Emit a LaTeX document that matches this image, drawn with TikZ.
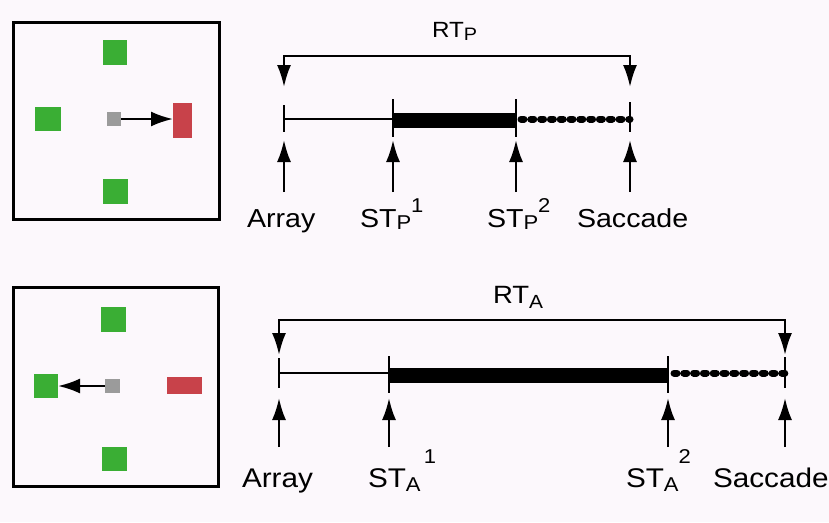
\documentclass[tikz,border=0pt]{standalone}
\usepackage{fontspec}
\setmainfont{Liberation Sans}[FakeStretch=1.1]
\usetikzlibrary{arrows.meta}

\definecolor{paper}{RGB}{252,248,252}
\definecolor{tgreen}{RGB}{58,174,52}
\definecolor{tred}{RGB}{200,66,74}
\definecolor{fixgray}{RGB}{155,155,155}

% label with a lowered subscript and a raised index: #1 base, #2 sub, #3 sup, #4 drop, #5 raise
\newcommand{\idxlabel}[5]{#1\raisebox{-#4}{\fontsize{20}{20}\selectfont #2}\raisebox{#5}{\fontsize{20}{20}\selectfont #3}}

\begin{document}
\begin{tikzpicture}[x=1pt,y=-1pt,
  patch/.style={rectangle, inner sep=0pt, outer sep=0pt},
  target/.style={patch, fill=tgreen},
  distract/.style={patch, fill=tred},
  fixpt/.style={patch, fill=fixgray, minimum width=14pt, minimum height=14pt},
  panel/.style={draw=black, line width=3pt},
  pointer/.style={line width=2.4pt, -{Latex[length=22pt,width=15pt]}},
  tick/.style={line width=2.2pt},
  thinline/.style={line width=1.6pt},
  thickline/.style={line width=15pt},
  dotline/.style={line width=7pt, line cap=round, dash pattern=on 3pt off 6.8pt},
  span/.style={line width=2.2pt, {Latex[length=22pt,width=14pt]}-{Latex[length=22pt,width=14pt]}},
  mark up/.style={line width=2.2pt, -{Latex[length=22pt,width=14pt]}},
  lbl/.style={inner sep=0pt, outer sep=0pt, anchor=base west, font=\fontsize{26}{30}\selectfont},
  lblb/.style={lbl, font=\fontsize{27}{30}\selectfont}
]
\fill[paper] (0,0) rectangle (829,522);
\useasboundingbox (0,0) rectangle (829,522);

% ---------- upper display: prosaccade ----------
\draw[panel] (13,22) rectangle (219,219);
\node[target, minimum width=24pt, minimum height=25pt] (pT) at (115,52.5) {};
\node[target, minimum width=26pt, minimum height=24pt] (pL) at (48,119) {};
\node[target, minimum width=25pt, minimum height=25pt] (pB) at (115.5,191.5) {};
\node[distract, minimum width=19pt, minimum height=35pt] (pR) at (182.5,120.5) {};
\node[fixpt] (pF) at (114,119) {};
\draw[pointer] (pF.east) -- (pF.east -| pR.west);

% ---------- upper time line ----------
\coordinate (pa) at (284,119);
\coordinate (p1) at (393,119);
\coordinate (p2) at (516,119);
\coordinate (ps) at (630,119);

\draw[thinline] (pa) -- (p1);
\draw[thickline] ([yshift=-1pt]p1) -- ([yshift=-1pt]p2);
\draw[dotline] ([xshift=5pt]p2) -- (ps);
\draw[tick] ([yshift=14pt]pa) -- ([yshift=-13pt]pa);
\draw[tick] ([yshift=20pt]p1) -- ([yshift=-18pt]p1);
\draw[tick] ([yshift=20pt]p2) -- ([yshift=-18pt]p2);
\draw[tick] ([yshift=17pt]ps) -- ([yshift=-13pt]ps);

\coordinate (pbl) at (284,87);
\coordinate (pbr) at (630,87);
\draw[span] (pbl) |- (457,56) -| (pbr);
\node[lbl, font=\fontsize{22}{24}\selectfont] (rtp) at (432,37) {RT\raisebox{-3pt}{\fontsize{18}{18}\selectfont P}};

\foreach \c in {pa,p1,p2,ps}
  \draw[mark up] ([yshift=-73pt]\c) -- ([yshift=-21pt]\c);

\node[lbl] (lpa) at (247,227) {Array};
\node[lbl] (lp1) at (360,227) {\idxlabel{ST}{P}{1}{2pt}{15pt}};
\node[lbl] (lp2) at (487,227) {\idxlabel{ST}{P}{2}{2pt}{15pt}};
\node[lbl] (lps) at (577,227) {Saccade};

% ---------- lower display: antisaccade ----------
\draw[panel] (13,287) rectangle (218,486);
\node[target, minimum width=25pt, minimum height=25pt] (aT) at (113.5,319.5) {};
\node[target, minimum width=24pt, minimum height=24pt] (aL) at (46,386) {};
\node[target, minimum width=25pt, minimum height=24pt] (aB) at (114.5,459) {};
\node[distract, minimum width=35pt, minimum height=17pt] (aR) at (184.5,385.5) {};
\node[fixpt, minimum width=15pt] (aF) at (112.5,386) {};
\draw[pointer] (aF.west) -- (aF.west -| aL.east);

% ---------- lower time line ----------
\coordinate (aa) at (279,373);
\coordinate (a1) at (389,373);
\coordinate (a2) at (668,373);
\coordinate (as) at (785,373);

\draw[thinline] (aa) -- (a1);
\draw[thickline] ([yshift=-2pt]a1) -- ([yshift=-2pt]a2);
\draw[dotline] ([xshift=6pt]a2) -- (as);
\draw[tick] ([yshift=15pt]aa) -- ([yshift=-15pt]aa);
\draw[tick] ([yshift=17pt]a1) -- ([yshift=-20pt]a1);
\draw[tick] ([yshift=17pt]a2) -- ([yshift=-20pt]a2);
\draw[tick] ([yshift=16pt]as) -- ([yshift=-15pt]as);

\coordinate (abl) at (279,355);
\coordinate (abr) at (785,355);
\draw[span] (abl) |- (532,320) -| (abr);
\node[lblb, font=\fontsize{25}{30}\selectfont] (rta) at (493,303) {RT\raisebox{-5pt}{\fontsize{19}{19}\selectfont A}};

\foreach \c in {aa,a1,a2,as}
  \draw[mark up] ([yshift=-74pt]\c) -- ([yshift=-25pt]\c);

\node[lblb] (laa) at (242,487) {Array};
\node[lblb] (la1) at (368,487) {\idxlabel{ST}{A}{\,1}{4pt}{24pt}};
\node[lblb] (la2) at (626,487) {\idxlabel{ST}{A}{2}{4pt}{24pt}};
\node[lblb] (las) at (713,487) {Saccade};
\end{tikzpicture}
\end{document}
